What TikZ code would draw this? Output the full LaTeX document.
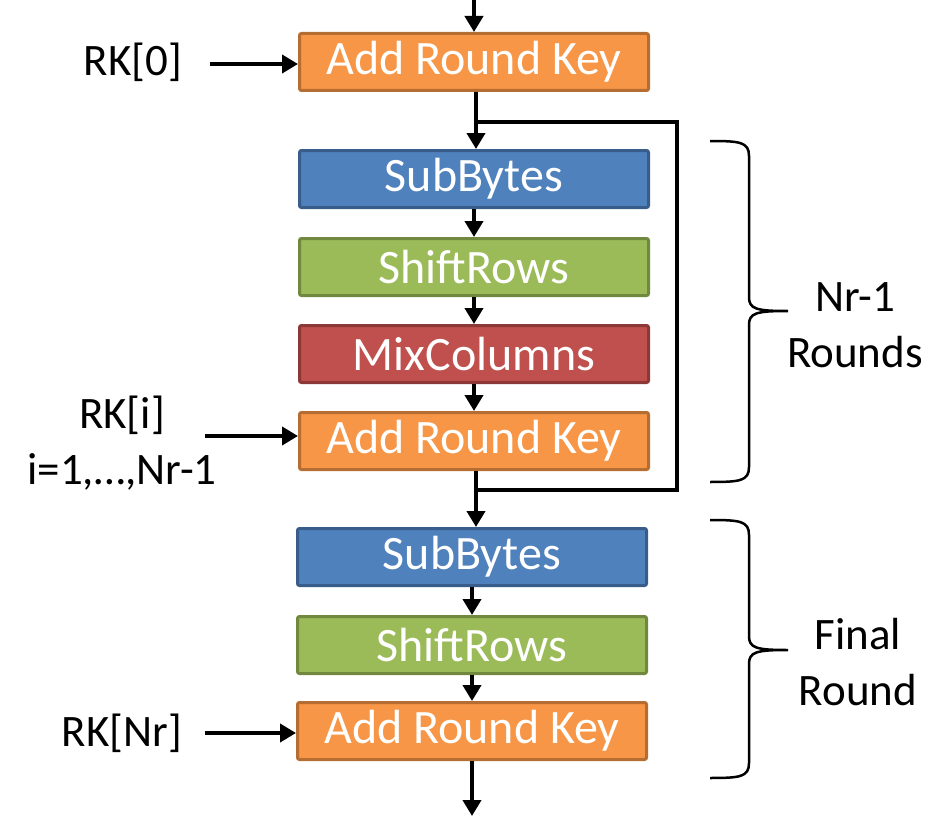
\documentclass[tikz,border=0pt]{standalone}
\usepackage{fontspec}
\setmainfont{Carlito}
\usetikzlibrary{arrows.meta}
\definecolor{orF}{HTML}{F79646}\definecolor{orD}{HTML}{B66D31}
\definecolor{blF}{HTML}{4F81BD}\definecolor{blD}{HTML}{385D8A}
\definecolor{grF}{HTML}{9BBB59}\definecolor{grD}{HTML}{71893F}
\definecolor{rdF}{HTML}{C0504D}\definecolor{rdD}{HTML}{8C3836}
\begin{document}
\begin{tikzpicture}[x=1pt,y=-1pt,
  stage/.style={draw, line width=3pt, minimum width=349pt, minimum height=57pt, rounded corners=2pt,
    text=white, font=\fontsize{48}{52}\selectfont, inner sep=0pt},
  ark/.style={stage, fill=orF, draw=orD},
  sbx/.style={stage, fill=blF, draw=blD},
  shr/.style={stage, fill=grF, draw=grD},
  mxc/.style={stage, fill=rdF, draw=rdD},
  lbl/.style={font=\fontsize{45}{56}\selectfont, align=center, inner sep=0pt},
  arr/.style={line width=4.5pt, -{Triangle[length=16pt,width=18pt]}},
  ln/.style={line width=4.5pt},
  brc/.style={line width=2.5pt}]
\useasboundingbox (0,0) rectangle (938,816);
\node[ark] (a0) at (474,62) {Add Round Key};
\node[sbx] (s1) at (474,179) {SubBytes};
\node[shr] (r1) at (474,267) {ShiftRows};
\node[mxc] (m1) at (474,354) {MixColumns};
\node[ark] (a1) at (474,441) {Add Round Key};
\node[sbx] (s2) at (472,557) {SubBytes};
\node[shr] (r2) at (472,645) {ShiftRows};
\node[ark] (a2) at (472,731) {Add Round Key};
\coordinate (top) at (474,0);
\coordinate (bot) at (472,816);
\coordinate (br) at (476,122);
\coordinate (l1) at (677,122);
\coordinate (l2) at (677,490);
\coordinate (mg) at (476,490);
\draw[arr] (top) -- (a0.north);
\draw[arr] (a0.south -| br) -- (s1.north -| br);
\draw[ln] (br) -- (l1) -- (l2) -- (mg);
\draw[arr] (s1) -- (r1);
\draw[arr] (r1) -- (m1);
\draw[arr] (m1) -- (a1);
\draw[arr] (a1.south -| mg) -- (s2.north -| mg);
\draw[arr] (s2) -- (r2);
\draw[arr] (r2) -- (a2);
\draw[arr] (a2) -- (bot);
\node[lbl] (k0) at (133,62) {RK[0]};
\node[lbl, align=center] (ki) at (122,443) {RK[i]\\i=1,\dots,Nr-1};
\node[lbl] (kn) at (122,733) {RK[Nr]};
\coordinate (k0e) at (210,64);
\coordinate (kie) at (205,436);
\coordinate (kne) at (205,733);
\draw[arr] (k0e) -- (k0e -| a0.west);
\draw[arr] (kie) -- (kie -| a1.west);
\draw[arr] (kne) -- (kne -| a2.west);
% brace 1
\draw[brc] (710,141) .. controls (740,141) and (749,142) .. (749,156)
  -- (749,297) .. controls (749,309) and (756,311) .. (788,311)
  (749,325) .. controls (749,313) and (756,311) .. (788,311)
  (749,325) -- (749,467) .. controls (749,481) and (740,482) .. (710,482);
% brace 2
\draw[brc] (710,520) .. controls (740,520) and (749,521) .. (749,535)
  -- (749,636) .. controls (749,648) and (756,650) .. (788,650)
  (749,664) .. controls (749,652) and (756,650) .. (788,650)
  (749,664) -- (749,763) .. controls (749,777) and (740,778) .. (710,778);
\node[lbl] (t1) at (855,325) {Nr-1\\Rounds};
\node[lbl] (t2) at (858,662) {Final\\Round};
\end{tikzpicture}
\end{document}
